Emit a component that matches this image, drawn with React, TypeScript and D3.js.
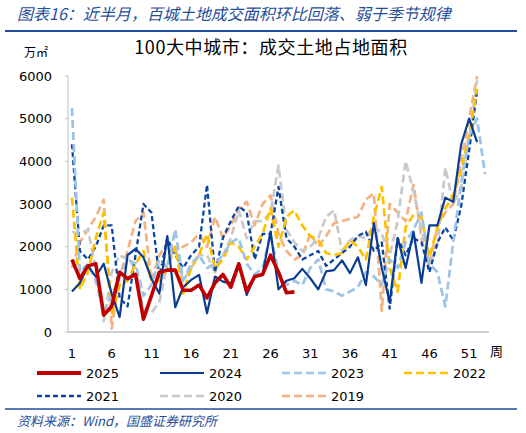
import * as d3 from "d3"

const weeks = d3.range(1, 54)
const xTicks = [1, 6, 11, 16, 21, 26, 31, 36, 41, 46, 51]
const yTicks = [0, 1000, 2000, 3000, 4000, 5000, 6000]

const s2025 = [1700, 1250, 1550, 1600, 400, 600, 1400, 1250, 1350, 300, 850, 1400, 1450, 1450, 980, 980, 1100, 800, 1150, 1350, 1050, 1600, 950, 1300, 1350, 1800, 1400, 920, 940]
const s2024 = [950, 1150, 1550, 1300, 1600, 900, 350, 1800, 1950, 1750, 1250, 900, 2250, 580, 1050, 1220, 1340, 440, 1300, 1180, 1140, 1610, 870, 1300, 1350, 2350, 1000, 1200, 1260, 1480, 1260, 1000, 1420, 1450, 1680, 1380, 1750, 1100, 2550, 1500, 700, 2200, 1500, 2350, 1150, 2500, 2500, 3150, 3050, 4400, 5000, 4450]
const s2023 = [5250, 1400, 1600, 1200, 450, 850, 1300, 1700, 1600, 850, 1100, 1700, 1500, 2400, 1200, 1600, 1800, 1500, 1600, 1800, 2100, 2200, 1600, 1350, 1500, 2300, 1400, 1100, 1200, 1100, 1500, 1700, 1000, 950, 850, 950, 1050, 1400, 1300, 1100, 1700, 1500, 2100, 2400, 2800, 1600, 1400, 600, 2100, 3500, 4600, 5000, 3700]
const s2022 = [3150, 1000, 1400, 2200, 2800, 400, 1100, 1200, 1600, 1900, 1200, 1200, 1500, 2000, 900, 1500, 1800, 2300, 1500, 1700, 2100, 2000, 1700, 2000, 2300, 2900, 2000, 2700, 2850, 2500, 2250, 2150, 1850, 1800, 1850, 2150, 2000, 1700, 2700, 3400, 1500, 950, 2450, 2750, 2700, 1750, 2450, 2900, 3200, 3800, 4600, 5700]
const s2021 = [4400, 1900, 1700, 2000, 2500, 2500, 800, 600, 1800, 3000, 2800, 1300, 2200, 1800, 1500, 1800, 2000, 3450, 1400, 2200, 2600, 2950, 2800, 1700, 2300, 2300, 3400, 2200, 2000, 1700, 1800, 1900, 1550, 1700, 1850, 2000, 2250, 2350, 1900, 2100, 550, 2200, 1800, 2200, 2100, 1400, 2100, 2450, 2150, 2950, 4250, 5650]
const s2020 = [2350, 2300, 2400, 1500, 250, 1400, 1800, 1700, 1500, 500, 450, 700, 1600, 2000, 1200, 1500, 1800, 1800, 1400, 1800, 2200, 2850, 2200, 2600, 2600, 2800, 3900, 2400, 2100, 1900, 2000, 2200, 2700, 2850, 1900, 2150, 2250, 2200, 2500, 2300, 1800, 2600, 4000, 3300, 2400, 1600, 2000, 3850, 3000, 3400, 4500, 5900]
const s2019 = [1500, 2100, 2400, 2700, 3100, 80, 1300, 1900, 2600, 2800, 1200, 1800, 2100, 1900, 2000, 2100, 2300, 2000, 2700, 2200, 2500, 2900, 3050, 2500, 3000, 3200, 2300, 1900, 1700, 1800, 2300, 2000, 2250, 2550, 2600, 2650, 2700, 3100, 3250, 500, 3000, 2800, 2600, 3450, 2200, 1500, 2500, 2800, 3000, 4000, 5000, 6000]

const seriesNames = ["2025", "2024", "2023", "2022", "2021", "2020", "2019"]
const seriesValues = [s2025, s2024, s2023, s2022, s2021, s2020, s2019]
const seriesColors = ["#C00000", "#0A3D91", "#9DC3E6", "#FFC000", "#0B47A1", "#C9C9C9", "#F4B183"]
const seriesWidths = [3.6, 2.2, 2.7, 2.7, 2.3, 2.7, 2.7]
const seriesDash = ["none", "none", "8,4", "8,4", "5,3", "8,4", "8,4"]

const App = () => {
  const margin = { left: 68, right: 489, top: 76, bottom: 332 }

  const x = d3.scalePoint<number>().domain(weeks).range([margin.left, margin.right]).padding(0.5)
  const y = d3.scaleLinear().domain([0, 6000]).range([margin.bottom, margin.top])

  const line = d3
    .line<number>()
    .x((_d, i) => x(weeks[i]) || 0)
    .y(d => y(d))

  const cjk = "'Noto Sans CJK SC', sans-serif"
  const num = "'DejaVu Sans', sans-serif"
  const blue = "#1F4E9A"

  // legend positions: 4 per row
  const legendX = [37, 160, 282, 404]
  const legendY = [373, 396]

  // back to front, 2025 on top
  const order = [6, 5, 4, 3, 2, 1, 0]

  return (
    <svg width={526} height={433} style={{ position: "absolute", left: 0, top: 0, background: "#fff" }}>
      {/* header */}
      <text x={17} y={20} fontFamily={cjk} fontSize={16} fontStyle="italic" fill={blue}>
        图表16：近半月，百城土地成交面积环比回落、弱于季节规律
      </text>
      <line x1={5} x2={517} y1={31} y2={31} stroke={blue} strokeWidth={2.2} />

      <text x={271} y={54} fontFamily={cjk} fontSize={18} letterSpacing={0.6} textAnchor="middle" fill="#000">
        100大中城市：成交土地占地面积
      </text>
      <text x={24} y={57} fontFamily={cjk} fontSize={12} fill="#000">
        万㎡
      </text>

      {/* axes */}
      <line x1={margin.left} x2={margin.left} y1={margin.top} y2={margin.bottom} stroke="#BFBFBF" strokeWidth={1} />
      <line x1={margin.left} x2={margin.right} y1={margin.bottom} y2={margin.bottom} stroke="#BFBFBF" strokeWidth={1.5} />
      {yTicks.map(t => (
        <g key={t}>
          <line x1={margin.left - 3} x2={margin.left} y1={y(t)} y2={y(t)} stroke="#BFBFBF" />
          <text x={52} y={y(t)} dy="0.36em" textAnchor="end" fontFamily={num} fontSize={13} fill="#000">
            {t}
          </text>
        </g>
      ))}
      {xTicks.map(t => (
        <text key={t} x={x(t) || 0} y={358} textAnchor="middle" fontFamily={num} fontSize={13} fill="#000">
          {t}
        </text>
      ))}
      <text x={490} y={356} fontFamily={cjk} fontSize={13} fill="#000">
        周
      </text>

      {/* series */}
      {order.map(i => (
        <path
          key={seriesNames[i]}
          d={line(seriesValues[i]) || ""}
          fill="none"
          stroke={seriesColors[i]}
          strokeWidth={seriesWidths[i]}
          strokeDasharray={seriesDash[i]}
          strokeLinejoin="round"
        />
      ))}

      {/* legend */}
      {seriesNames.map((name, i) => {
        const lx = legendX[i % 4]
        const ly = legendY[Math.floor(i / 4)]
        return (
          <g key={name}>
            <line
              x1={lx}
              x2={lx + 44}
              y1={ly}
              y2={ly}
              stroke={seriesColors[i]}
              strokeWidth={i === 0 ? 4 : seriesWidths[i]}
              strokeDasharray={seriesDash[i]}
            />
            <text x={lx + 49} y={ly} dy="0.36em" fontFamily={num} fontSize={13} fill="#000">
              {name}
            </text>
          </g>
        )
      })}

      {/* footer */}
      <line x1={5} x2={517} y1={409} y2={409} stroke={blue} strokeWidth={1.5} />
      <text x={17} y={426} fontFamily={cjk} fontSize={13} fontStyle="italic" fill={blue}>
        资料来源：Wind，国盛证券研究所
      </text>
    </svg>
  )
}

export default App
